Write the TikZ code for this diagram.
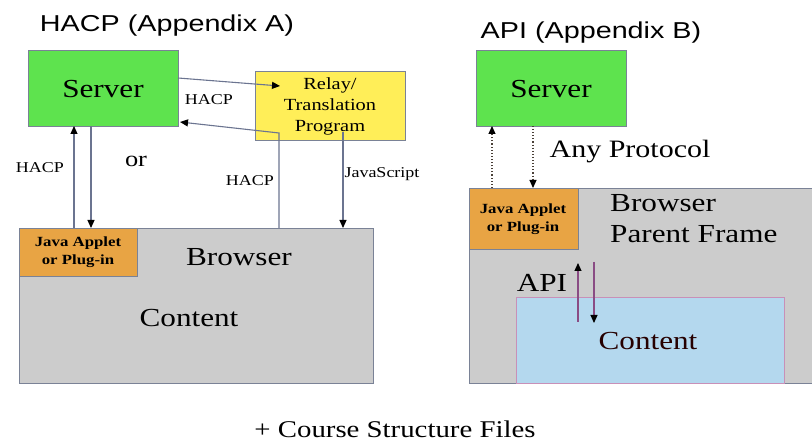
\documentclass[tikz,border=0pt]{standalone}
\usepackage{fontspec}
\setmainfont[FakeStretch=1.2]{Liberation Serif}
\newfontfamily\titlefont[FakeStretch=1.25]{Liberation Sans}
\usetikzlibrary{arrows.meta,calc}
\definecolor{srvgreen}{HTML}{5EE34E}
\definecolor{relayyel}{HTML}{FFEE58}
\definecolor{brgray}{HTML}{CCCCCC}
\definecolor{appor}{HTML}{E8A444}
\definecolor{cntblue}{HTML}{B4D8EE}
\definecolor{bordc}{HTML}{7A8296}
\definecolor{linec}{HTML}{6B7490}
\definecolor{dotc}{HTML}{4A4038}
\definecolor{apic}{HTML}{8A4C84}
\definecolor{cntbord}{HTML}{C890B8}
\begin{document}
\begin{tikzpicture}[x=1pt,y=-1pt,
  box/.style={draw=bordc, line width=0.8pt, anchor=north west, inner sep=0pt, outer sep=0pt},
  lbl/.style={inner sep=0pt, text=black, align=center},
  tipb/.style={-{Triangle[width=7pt,length=8pt,color=black]}},
  conn/.style={draw=linec, line width=1.1pt, tipb},
  dconn/.style={draw=dotc, line width=1.1pt, dotted, tipb},
  aconn/.style={draw=apic, line width=1.1pt, tipb}]
\useasboundingbox (0,0) rectangle (812,443);
% ---------- left panel ----------
\node[lbl, font=\titlefont\fontsize{23}{27}\selectfont] (titleL) at (167,26) {HACP (Appendix A)};
\node[box, fill=srvgreen, minimum width=150pt, minimum height=76pt] (serverL) at (28,50) {};
\node[lbl, font=\fontsize{26}{30}\selectfont] (serverLt) at (103,89) {Server};
\node[box, fill=relayyel, minimum width=150pt, minimum height=69pt] (relay) at (255,71) {};
\node[lbl, font=\fontsize{17}{21}\selectfont] (relayt) at (330,106) {Relay/\\Translation\\Program};
\node[box, fill=brgray, minimum width=354pt, minimum height=155pt] (browserL) at (19,228) {};
\node[box, fill=appor, minimum width=118pt, minimum height=48pt] (appletL) at (19,228) {};
\node[lbl, font=\bfseries\fontsize{14}{18}\selectfont] (appletLt) at (78,252) {Java Applet\\or Plug-in};
\node[lbl, font=\fontsize{26}{30}\selectfont] (browserLt) at (239,257) {Browser};
\node[lbl, font=\fontsize{26}{30}\selectfont] (contentLt) at (189,318) {Content};
% connectors left
\draw[conn] ($(browserL.north west)+(55,0)$) -- ($(serverL.south west)+(46,0)$);
\draw[conn] ($(serverL.south west)+(63,0)$) -- ($(browserL.north west)+(72,0)$);
\draw[conn] ($(serverL.north east)+(0,28)$) -- ($(relay.north west)+(25,15)$);
\draw[conn] ($(browserL.north west)+(260,0)$) -- ($(relay.south west)+(24,-7)$) -- ($(serverL.south east)+(2,-4)$);
\draw[conn] ($(relay.south west)+(88,-8)$) -- ($(browserL.north west)+(324,0)$);
\node[lbl, font=\fontsize{15}{18}\selectfont] (hacp1) at (209,100) {HACP};
\node[lbl, font=\fontsize{15}{18}\selectfont] (hacp2) at (40,168) {HACP};
\node[lbl, font=\fontsize{15}{18}\selectfont] (hacp3) at (250,181) {HACP};
\node[lbl, font=\fontsize{15}{18}\selectfont] (js) at (382,174) {JavaScript};
\node[lbl, font=\fontsize{22}{26}\selectfont] (orl) at (136,161) {or};
% ---------- right panel ----------
\node[lbl, font=\titlefont\fontsize{23}{27}\selectfont] (titleR) at (591,33) {API (Appendix B)};
\node[box, fill=srvgreen, minimum width=150pt, minimum height=76pt] (serverR) at (476,50) {};
\node[lbl, font=\fontsize{26}{30}\selectfont] (serverRt) at (551,89) {Server};
\node[box, fill=brgray, minimum width=346pt, minimum height=195pt] (browserR) at (469,188) {};
\node[box, fill=appor, minimum width=109pt, minimum height=61pt] (appletR) at (469,188) {};
\node[lbl, font=\bfseries\fontsize{14}{18}\selectfont] (appletRt) at (523,219) {Java Applet\\or Plug-in};
\node[lbl, font=\fontsize{26}{30}\selectfont, anchor=west] (browserRt) at (610,203) {Browser};
\node[lbl, font=\fontsize{26}{30}\selectfont, anchor=west] (parentRt) at (610,234) {Parent Frame};
\node[box, draw=cntbord, fill=cntblue, minimum width=268pt, minimum height=86pt] (contentR) at (516,297) {};
\node[lbl, font=\fontsize{26}{30}\selectfont, text=black!85!red] (contentRt) at (648,341) {Content};
\node[lbl, font=\fontsize{26}{30}\selectfont] (apit) at (542,283) {API};
\node[lbl, font=\fontsize{25}{30}\selectfont] (anyp) at (630,152) {Any Protocol};
% connectors right
\draw[dconn] ($(browserR.north west)+(23,0)$) -- ($(serverR.south west)+(16,0)$);
\draw[dconn] ($(serverR.south west)+(57,0)$) -- ($(browserR.north west)+(64,0)$);
\draw[aconn] ($(contentR.north west)+(62,25)$) -- ($(contentR.north west)+(62,-34)$);
\draw[aconn] ($(contentR.north west)+(78,-35)$) -- ($(contentR.north west)+(78,26)$);
% ---------- bottom ----------
\node[lbl, font=\fontsize{24}{28}\selectfont] (course) at (395,429) {+ Course Structure Files};
\end{tikzpicture}
\end{document}
